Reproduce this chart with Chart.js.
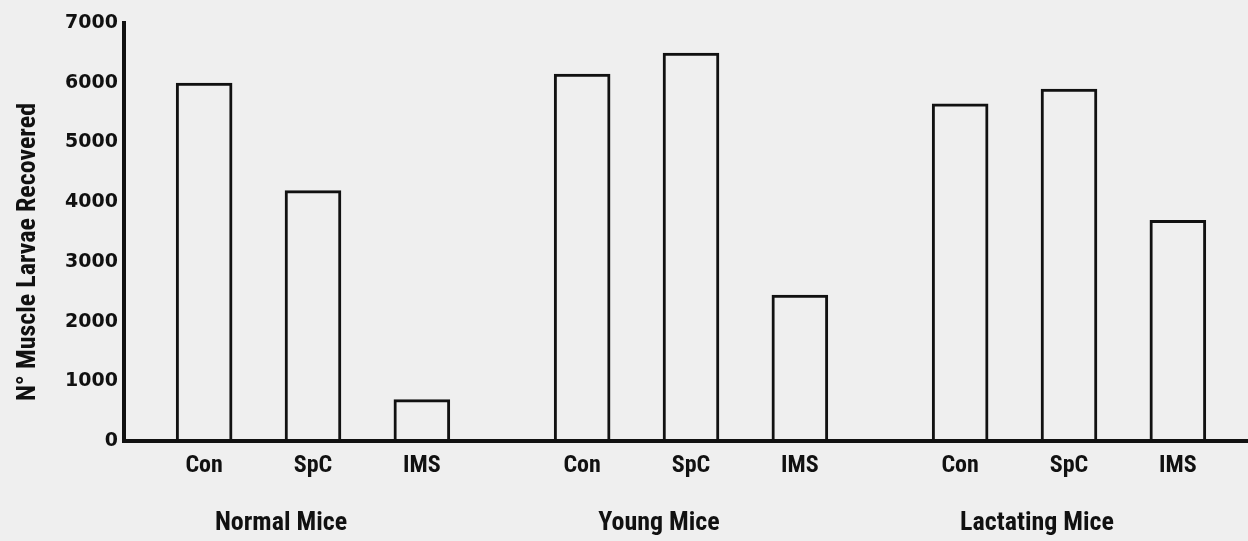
<!DOCTYPE html>
<html>
<head>
<meta charset="utf-8">
<script src="https://cdn.jsdelivr.net/npm/chart.js@4/dist/chart.umd.min.js"></script>
<style>
  html, body { margin: 0; padding: 0; background: #efefef; }
  #wrap { width: 1248px; height: 541px; }
</style>
</head>
<body>
<div id="wrap"><canvas id="grafica"></canvas></div>
<script>
// grupos de ratones y tratamientos
const grupos = ['Normal Mice', 'Young Mice', 'Lactating Mice'];
const tratamientos = ['Con', 'SpC', 'IMS'];

// larvas musculares recuperadas
const valoresCon = [6000, 6150, 5650];
const valoresSpC = [4200, 6500, 5900];
const valoresIMS = [700, 2450, 3700];

const ticksY = [0, 1000, 2000, 3000, 4000, 5000, 6000, 7000];
const tituloY = 'N° Muscle Larvae Recovered';

const fuente = '"Roboto Condensed", Roboto, sans-serif';

// etiquetas de tratamiento bajo cada barra y titulo del eje y
const etiquetasPlugin = {
  id: 'etiquetas',
  afterLayout(chart) {
    // el eje x de la figura original sale un poco del lienzo por la derecha
    const x = chart.scales.x;
    x.right += 10;
    x.width = x.right - x.left;
    x.configure();
  },
  afterDraw(chart) {
    const ctx = chart.ctx;
    const area = chart.chartArea;
    ctx.save();
    ctx.fillStyle = '#111';
    ctx.font = 'bold 24px ' + fuente;
    ctx.textAlign = 'center';
    ctx.textBaseline = 'middle';
    chart.data.datasets.forEach((ds, i) => {
      chart.getDatasetMeta(i).data.forEach(bar => {
        ctx.fillText(tratamientos[i], bar.x, area.bottom + 25);
      });
    });
    ctx.translate(28, (area.top + area.bottom) / 2 + 20);
    ctx.rotate(-Math.PI / 2);
    ctx.font = 'bold 26px ' + fuente;
    ctx.fillText(tituloY, 0, 0);
    ctx.restore();
  }
};

const estiloBarra = { backgroundColor: 'rgba(0,0,0,0)', borderColor: '#111', borderWidth: 3, borderSkipped: 'start' };

new Chart(document.getElementById('grafica'), {
  type: 'bar',
  data: {
    labels: grupos,
    datasets: [
      { label: 'Con', data: valoresCon, ...estiloBarra },
      { label: 'SpC', data: valoresSpC, ...estiloBarra },
      { label: 'IMS', data: valoresIMS, ...estiloBarra }
    ]
  },
  options: {
    responsive: true,
    maintainAspectRatio: false,
    animation: false,
    layout: { padding: { top: 23, right: 0, bottom: 0, left: 0 } },
    categoryPercentage: 0.864,
    barPercentage: 0.52,
    plugins: { legend: { display: false }, tooltip: { enabled: false } },
    scales: {
      x: {
        grid: { display: false, drawTicks: false },
        border: { display: true, color: '#111', width: 4 },
        ticks: {
          color: '#111',
          font: { family: fuente, size: 26, weight: 'bold' },
          padding: 67,
          labelOffset: -32,
          maxRotation: 0
        },
        afterFit(scale) { scale.height = 100; }
      },
      y: {
        min: 0,
        max: 7000,
        grid: { display: false, drawTicks: false },
        border: { display: true, color: '#111', width: 4 },
        afterBuildTicks(scale) { scale.ticks = ticksY.map(v => ({ value: v })); },
        ticks: {
          color: '#111',
          font: { family: '"DejaVu Sans", sans-serif', size: 19, weight: 'bold' },
          padding: 6,
          callback: v => String(v)
        },
        afterFit(scale) { scale.width = 124; }
      }
    }
  },
  plugins: [etiquetasPlugin]
});
</script>
</body>
</html>
